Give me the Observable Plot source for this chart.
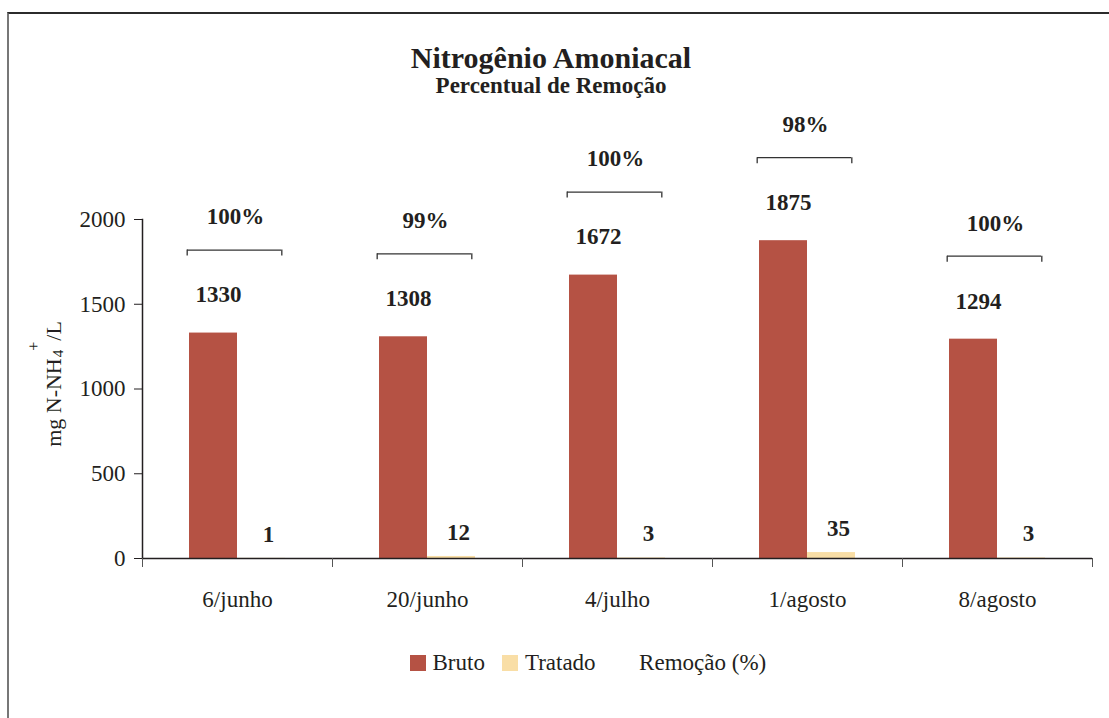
<!DOCTYPE html>
<html>
<head>
<meta charset="utf-8">
<script src="https://cdn.jsdelivr.net/npm/d3@7"></script>
<script src="https://cdn.jsdelivr.net/npm/@observablehq/plot@0.6"></script>
<style>
  html, body { margin: 0; padding: 0; background: #fff; overflow: hidden; }
  #wrap, #wrap * { font-family: "Liberation Serif", "Times New Roman", serif; }
  #wrap { position: relative; width: 1109px; height: 718px; overflow: hidden; color: #231f20; }
  #chart { position: absolute; left: 0; top: 0; }
  #border { position: absolute; left: 7px; top: 12px; width: 1120px; height: 730px;
            border-top: 2px solid #2b2b2b; border-left: 2px solid #777; box-sizing: border-box; }
  #title { position: absolute; left: 0; width: 1102px; top: 43px; text-align: center;
           font-weight: bold; font-size: 30px; line-height: 30px; }
  #subtitle { position: absolute; left: 0; width: 1102px; top: 74px; text-align: center;
              font-weight: bold; font-size: 23px; line-height: 23px; }
  #legend { position: absolute; left: 410px; top: 651px; display: flex; align-items: center;
            font-size: 23px; line-height: 23px; white-space: nowrap; }
  .item { display: flex; align-items: center; margin-right: 17.5px; }
  .sw { width: 16px; height: 16px; margin-right: 6.5px; }
</style>
</head>
<body>
<div id="wrap">
  <div id="chart"></div>
  <div id="border"></div>
  <div id="title"></div>
  <div id="subtitle"></div>
  <div id="legend"></div>
</div>
<script>
// ---- data ----
const titleText = "Nitrogênio Amoniacal";
const subtitleText = "Percentual de Remoção";
const dates = ["6/junho", "20/junho", "4/julho", "1/agosto", "8/agosto"];
const bruto = [1330, 1308, 1672, 1875, 1294];
const tratado = [1, 12, 3, 35, 3];
const remocao = [100, 99, 100, 98, 100];
const series = ["Bruto", "Tratado"];
const seriesColors = ["#B55244", "#F9DEA6"];
const removalLegend = "Remoção (%)";
const yTicks = [0, 500, 1000, 1500, 2000];
const yLabelParts = ["mg N-NH", "4", "+", "/L"];

// ---- tables built from the arrays ----
const rows = dates.flatMap((d, i) => [
  {date: d, series: series[0], value: bruto[i]},
  {date: d, series: series[1], value: tratado[i]}
]);
const groups = dates.map((d, i) => ({date: d, bruto: bruto[i], tratado: tratado[i], remocao: remocao[i]}));

// ---- layout ----
const W = 1109, H = 718, mL = 140, mR = 16, mT = 219, mB = 160;
const padOuter = 0.96;
const facetW = (W - mL - mR) / dates.length;
const bw = facetW / (series.length + 2 * padOuter);
const frameH = H - mT - mB;
const ink = "#231f20";
const bracket = "#333";
const font = "Liberation Serif, Times New Roman, serif";

const txt = {fontFamily: font};

const plot = Plot.plot({
  width: W, height: H,
  marginLeft: mL, marginRight: mR, marginTop: mT, marginBottom: mB,
  style: {fontFamily: font, color: ink, background: "transparent", overflow: "visible"},
  fx: {domain: dates, padding: 0, axis: null, label: null},
  x: {domain: series, paddingInner: 0, paddingOuter: padOuter, axis: null},
  y: {domain: [yTicks[0], yTicks[yTicks.length - 1]], axis: null},
  color: {domain: series, range: seriesColors},
  marks: [
    Plot.barY(rows, {fx: "date", x: "series", y: "value", fill: "series"}),
    Plot.ruleY([0], {stroke: ink, strokeWidth: 1.5}),
    Plot.frame({anchor: "left", facetAnchor: "left", stroke: ink, strokeWidth: 1.5}),
    Plot.frame({anchor: "left", insetTop: frameH, insetBottom: -8, stroke: "#555"}),
    Plot.frame({anchor: "right", facetAnchor: "right", insetTop: frameH, insetBottom: -8, stroke: "#555"}),
    Plot.axisY({ticks: yTicks, tickFormat: "d", tickSize: 8, tickPadding: 9, fontSize: 23, label: null,
      fontVariant: "normal", ...txt}),
    Plot.axisFx({anchor: "bottom", tickSize: 0, tickPadding: 32, fontSize: 23, label: null, ...txt}),
    // value labels
    Plot.text(rows.filter(r => r.series === series[0]), {
      fx: "date", x: "series", y: "value", text: d => String(d.value),
      dy: -38, dx: 5, fontSize: 23, fontWeight: "bold", ...txt
    }),
    Plot.text(rows.filter(r => r.series === series[1]), {
      fx: "date", x: "series", y: "value", text: d => String(d.value),
      dy: -24, dx: 7, fontSize: 23, fontWeight: "bold", ...txt
    }),
    // removal brackets
    Plot.ruleY(groups, {fx: "date", y: "bruto", x1: () => series[0], x2: () => series[1],
      dy: -83, dx: -2, insetRight: 2, stroke: bracket, strokeWidth: 1.3}),
    Plot.ruleX(groups, {fx: "date", x: () => series[0], y1: "bruto", y2: "bruto",
      insetBottom: -6, dy: -83, dx: -bw / 2 - 2, stroke: bracket, strokeWidth: 1.3}),
    Plot.ruleX(groups, {fx: "date", x: () => series[1], y1: "bruto", y2: "bruto",
      insetBottom: -6, dy: -83, dx: bw / 2 - 4, stroke: bracket, strokeWidth: 1.3}),
    Plot.ruleX(groups, {fx: "date", y1: "bruto", y2: "bruto",
      insetTop: -6, dy: -83, dx: -2, stroke: bracket, strokeWidth: 1.3}),
    Plot.text(groups, {fx: "date", y: "bruto", text: d => d.remocao + "%",
      dy: -116, dx: -2, fontSize: 23, fontWeight: "bold", ...txt})
  ]
});

// y-axis label with subscript / superscript
const svg = d3.select(plot);
const lab = svg.append("text")
  .attr("transform", "translate(61,384) rotate(-90)")
  .attr("text-anchor", "middle")
  .attr("font-family", font)
  .attr("font-size", 22)
  .attr("fill", ink);
lab.append("tspan").text(yLabelParts[0]);
lab.append("tspan").attr("font-size", 15).attr("dy", 2).attr("dx", 1).text(yLabelParts[1]);
lab.append("tspan").attr("font-size", 16).attr("dy", -24).attr("dx", -1).text(yLabelParts[2]);
lab.append("tspan").attr("dy", 22).attr("dx", 1).text(yLabelParts[3]);

document.getElementById("chart").appendChild(plot);
document.getElementById("title").textContent = titleText;
document.getElementById("subtitle").textContent = subtitleText;

// legend
const legend = d3.select("#legend");
series.forEach((s, i) => {
  const it = legend.append("div").attr("class", "item");
  it.append("div").attr("class", "sw").style("background", seriesColors[i]);
  it.append("span").text(s);
});
const it3 = legend.append("div").attr("class", "item");
it3.append("div").attr("class", "sw").style("background", "transparent").style("margin-right", "10px");
it3.append("span").text(removalLegend);
</script>
</body>
</html>
